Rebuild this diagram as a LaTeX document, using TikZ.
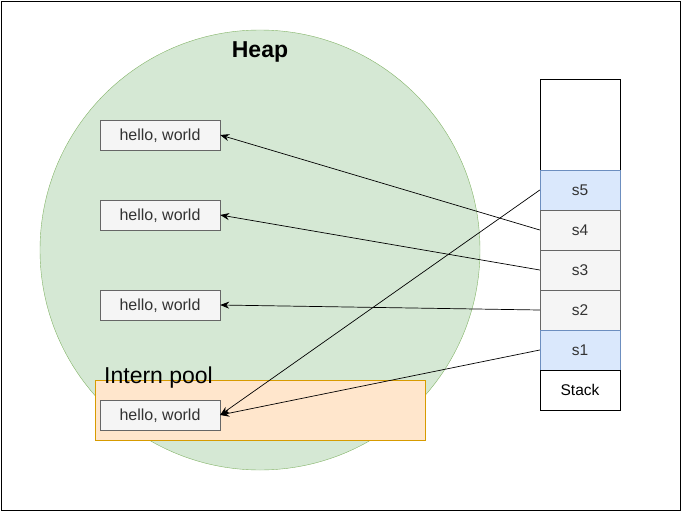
\documentclass[tikz,border=0pt]{standalone}
\usepackage{fontspec}
\setmainfont{Liberation Sans}
\usetikzlibrary{arrows.meta}
\definecolor{heapfill}{HTML}{D5E8D4}
\definecolor{heapline}{HTML}{82B366}
\definecolor{poolfill}{HTML}{FFE6CC}
\definecolor{poolline}{HTML}{D79B00}
\definecolor{strfill}{HTML}{F5F5F5}
\definecolor{strline}{HTML}{666666}
\definecolor{strtext}{HTML}{333333}
\definecolor{reffill}{HTML}{DAE8FC}
\definecolor{refline}{HTML}{6C8EBF}
\begin{document}
\begin{tikzpicture}[x=1pt,y=-1pt,
  strbox/.style={draw=strline,fill=strfill,text=strtext,minimum width=120pt,minimum height=30pt,inner sep=0pt,text depth=0pt,font=\fontsize{16}{19}\selectfont},
  cell/.style={draw=strline,fill=strfill,text=strtext,minimum width=80pt,minimum height=40pt,inner sep=0pt,text depth=0pt,font=\fontsize{15.5}{18}\selectfont},
  refcell/.style={cell,draw=refline,fill=reffill},
  ptr/.style={-{Stealth[length=9pt,width=7pt]},line width=0.7pt}]
\useasboundingbox (0,0) rectangle (682,511);
\draw[black,line width=0.8pt] (1,1) rectangle (680,510);
\node[circle,draw=heapline,fill=heapfill,minimum size=440pt,inner sep=0pt] (heap) at (260,250) {};
\node[anchor=base,font=\fontsize{23}{27}\selectfont\bfseries] (heaplabel) at (260,57) {Heap};
\node[draw=poolline,fill=poolfill,minimum width=330pt,minimum height=60pt,inner sep=0pt] (pool) at (260,410) {};
\node[anchor=base west,inner sep=0pt,font=\fontsize{23}{27}\selectfont] (poollabel) at (104,383) {Intern pool};
\node[strbox] (h1) at (160,135) {hello, world};
\node[strbox] (h2) at (160,215) {hello, world};
\node[strbox] (h3) at (160,305) {hello, world};
\node[strbox] (h4) at (160,415) {hello, world};
\node[draw=black,fill=white,minimum width=80pt,minimum height=91pt,inner sep=0pt] (top) at (580,124.5) {};
\node[refcell] (s5) at (580,190) {s5};
\node[cell] (s4) at (580,230) {s4};
\node[cell] (s3) at (580,270) {s3};
\node[cell] (s2) at (580,310) {s2};
\node[refcell] (s1) at (580,350) {s1};
\node[cell,draw=black,fill=white,text=black] (stack) at (580,390) {Stack};
\draw[ptr] (s4.west) -- (h1.east);
\draw[ptr] (s3.west) -- (h2.east);
\draw[ptr] (s2.west) -- (h3.east);
\draw[ptr] (s1.west) -- (h4.east);
\draw[ptr] (s5.west) -- (h4.east);
\end{tikzpicture}
\end{document}
